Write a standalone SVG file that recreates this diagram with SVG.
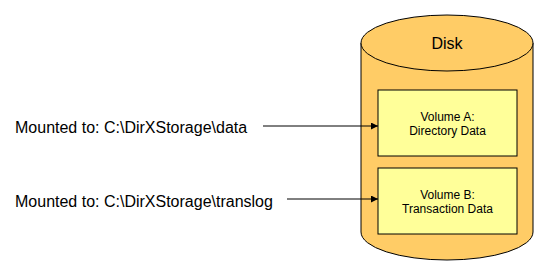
<svg xmlns="http://www.w3.org/2000/svg" width="540" height="270" viewBox="0 0 540 270">
<defs>
<marker id="ah" viewBox="0 0 10 10" refX="10" refY="5" markerWidth="7" markerHeight="7" markerUnits="userSpaceOnUse" orient="auto"><path d="M0,0 L10,5 L0,10 z" fill="#000"/></marker>
<style>
.cyl{fill:#FFCC66;stroke:#000;stroke-width:1}
.vol{fill:#FFFF99;stroke:#000;stroke-width:1}
.lbl{font-family:"Liberation Sans",Arial,sans-serif;font-size:16px;fill:#000}
.vt{font-family:"Liberation Sans",Arial,sans-serif;font-size:12px;fill:#000;text-anchor:middle}
.conn{stroke:#000;stroke-width:1;fill:none;marker-end:url(#ah)}
</style>
</defs>
<rect width="540" height="270" fill="#fff"/>
<g id="disk">
<path class="cyl" d="M361,43 L361,232 A86,28 0 0 0 533,232 L533,43"/>
<ellipse class="cyl" cx="447" cy="43" rx="86" ry="28"/>
<text class="lbl" x="447" y="49" text-anchor="middle">Disk</text>
</g>
<g id="volumeA">
<rect class="vol" x="378" y="90" width="139" height="66"/>
<text class="vt" x="447.5" y="121">Volume A:</text>
<text class="vt" x="447.5" y="135">Directory Data</text>
</g>
<g id="volumeB">
<rect class="vol" x="378" y="168" width="139" height="66"/>
<text class="vt" x="447.5" y="199">Volume B:</text>
<text class="vt" x="447.5" y="213">Transaction Data</text>
</g>
<g id="mountA">
<text class="lbl" x="15" y="133">Mounted to: C:\DirXStorage\data</text>
</g>
<g id="mountB">
<text class="lbl" x="15" y="207">Mounted to: C:\DirXStorage\translog</text>
</g>
<g id="connectors">
<line class="conn" x1="263" y1="126" x2="378" y2="126"/>
<line class="conn" x1="287" y1="199" x2="378" y2="199"/>
</g>
</svg>
